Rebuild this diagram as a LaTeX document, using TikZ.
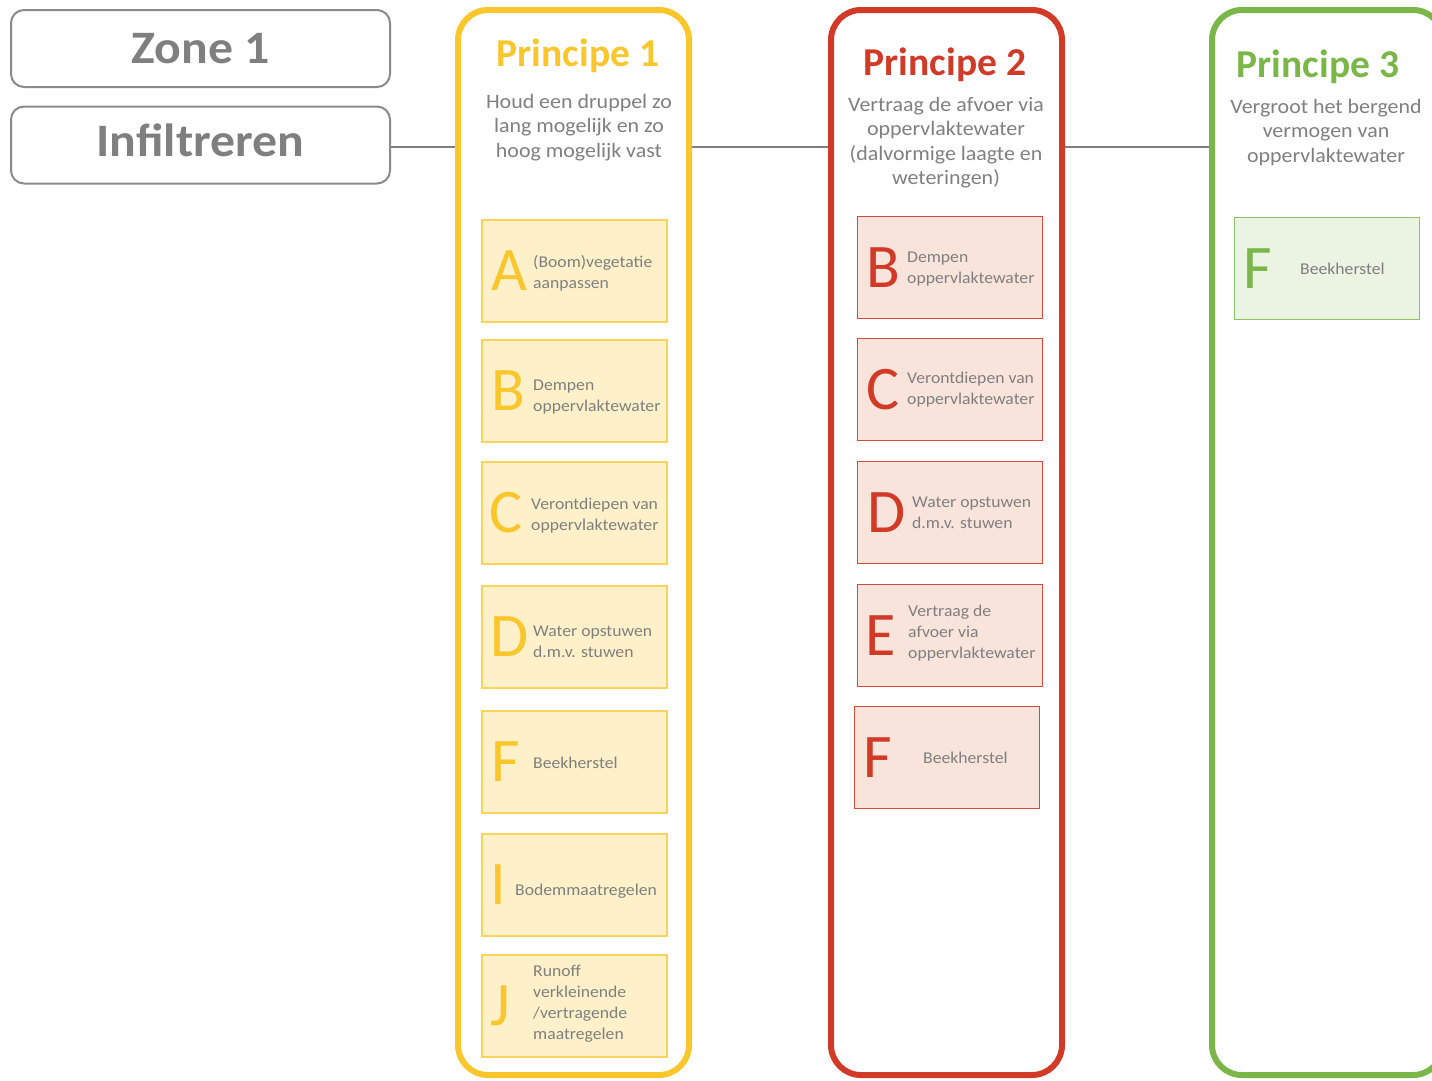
\documentclass[tikz,border=0pt]{standalone}
\usepackage{fontspec}
\setmainfont{Carlito}[FakeStretch=1.07]
\newfontfamily\titlefont{Carlito}
\usetikzlibrary{positioning}

\definecolor{txtgray}{HTML}{7F7F7F}
\definecolor{boxgray}{HTML}{8A8A8A}
\definecolor{ye}{HTML}{F9C62B}
\definecolor{yefill}{HTML}{FEF1C9}
\definecolor{yeline}{HTML}{F8D45C}
\definecolor{re}{HTML}{D03A27}
\definecolor{refill}{HTML}{F9E4DC}
\definecolor{reline}{HTML}{D24B3A}
\definecolor{gr}{HTML}{7AB648}
\definecolor{grfill}{HTML}{EBF3E2}
\definecolor{grline}{HTML}{8DC463}

\tikzset{
  zonebox/.style={draw=boxgray, line width=2pt, rounded corners=13pt, minimum width=379pt, minimum height=77pt, text=txtgray, font=\fontsize{46.5}{50}\selectfont\bfseries},
  column/.style={draw=#1, line width=6pt, rounded corners=30pt, minimum width=231pt, minimum height=1065pt, inner sep=0pt},
  title/.style={text=#1, anchor=base, inner sep=0pt, font=\titlefont\fontsize{39.5}{42}\selectfont\bfseries},
  subtitle/.style={text=txtgray, anchor=north, align=center, inner sep=0pt, font=\fontsize{20.5}{24.5}\selectfont},
  item/.style={draw=#1line, fill=#1fill, line width=1.5pt, minimum width=185pt, minimum height=102pt, inner sep=0pt},
  letter/.style={text=#1, inner sep=0pt, font=\titlefont\fontsize{62}{62}\selectfont},
  itemtext/.style={text=txtgray, anchor=west, align=left, inner sep=0pt, font=\fontsize{16.5}{21}\selectfont},
  link/.style={draw=txtgray, line width=1.5pt}
}

\begin{document}
\begin{tikzpicture}[x=1pt, y=-1pt]
    \useasboundingbox (0,0) rectangle (1432,1080);

    % zone
    \node [zonebox] (zone) at (200.5,48.5) {Zone 1};
    \node [zonebox, text depth=9pt] (infil) at (200.5,145) {Infiltreren};

    % columns
    \node [column=ye] (col1) at (573.5,542.5) {};
    \node [column=re] (col2) at (946.5,542.5) {};
    \node [column=gr] (col3) at (1327.5,542.5) {};

    \coordinate (wire) at (424,147);
    \draw [link] (infil.east |- wire) -- (col1.west |- wire);
    \draw [link] (col1.east |- wire) -- (col2.west |- wire);
    \draw [link] (col2.east |- wire) -- (col3.west |- wire);

    % principe 1
    \node [title=ye] (t1) at (578,66) {Principe 1};
    \node [subtitle] (s1) at (579,94) {Houd een druppel zo\\lang mogelijk en zo\\hoog mogelijk vast};

    \node [item=ye] (a1) at (574.5,271) {};
    \node [letter=ye] (a1l) at (509,271) {A};
    \node [itemtext] (a1t) at (533,273) {(Boom)vegetatie\\aanpassen};

    \node [item=ye] (b1) at (574.5,391) {};
    \node [letter=ye] (b1l) at (508,391) {B};
    \node [itemtext] (b1t) at (533,397) {Dempen\\oppervlaktewater};

    \node [item=ye] (c1) at (574.5,513) {};
    \node [letter=ye] (c1l) at (506,513) {C};
    \node [itemtext] (c1t) at (531,516) {Verontdiepen van\\oppervlaktewater};

    \node [item=ye] (d1) at (574.5,637) {};
    \node [letter=ye] (d1l) at (510,637) {D};
    \node [itemtext] (d1t) at (533,642) {Water opstuwen\\d.m.v. stuwen};

    \node [item=ye] (f1) at (574.5,762) {};
    \node [letter=ye] (f1l) at (506,762) {F};
    \node [itemtext] (f1t) at (533,763) {Beekherstel};

    \node [item=ye] (i1) at (574.5,885) {};
    \node [letter=ye] (i1l) at (498,885) {I};
    \node [itemtext] (i1t) at (515,891) {Bodemmaatregelen};

    \node [item=ye] (j1) at (574.5,1006) {};
    \node [letter=ye] (j1l) at (500,1006) {J};
    \node [itemtext] (j1t) at (533,1004) {Runoff\\verkleinende\\/vertragende\\maatregelen};

    % principe 2
    \node [title=re] (t2) at (945,75) {Principe 2};
    \node [subtitle] (s2) at (946,97) {Vertraag de afvoer via\\oppervlaktewater\\(dalvormige laagte en\\weteringen)};

    \node [item=re] (b2) at (950,267.5) {};
    \node [letter=re] (b2l) at (883,267.5) {B};
    \node [itemtext] (b2t) at (907,269) {Dempen\\oppervlaktewater};

    \node [item=re] (c2) at (950,389.5) {};
    \node [letter=re] (c2l) at (883,389.5) {C};
    \node [itemtext] (c2t) at (907,390) {Verontdiepen van\\oppervlaktewater};

    \node [item=re] (d2) at (950,512.5) {};
    \node [letter=re] (d2l) at (887,512.5) {D};
    \node [itemtext] (d2t) at (912,513) {Water opstuwen\\d.m.v. stuwen};

    \node [item=re] (e2) at (950,635.5) {};
    \node [letter=re] (e2l) at (881,635.5) {E};
    \node [itemtext] (e2t) at (908,633) {Vertraag de\\afvoer via\\oppervlaktewater};

    \node [item=re] (f2) at (947,757.5) {};
    \node [letter=re] (f2l) at (878,757.5) {F};
    \node [itemtext] (f2t) at (923,758) {Beekherstel};

    % principe 3
    \node [title=gr] (t3) at (1318,77) {Principe 3};
    \node [subtitle] (s3) at (1326,99) {Vergroot het bergend\\vermogen van\\oppervlaktewater};

    \node [item=gr] (f3) at (1327,268.5) {};
    \node [letter=gr] (f3l) at (1258,268.5) {F};
    \node [itemtext] (f3t) at (1300,269) {Beekherstel};
\end{tikzpicture}
\end{document}
